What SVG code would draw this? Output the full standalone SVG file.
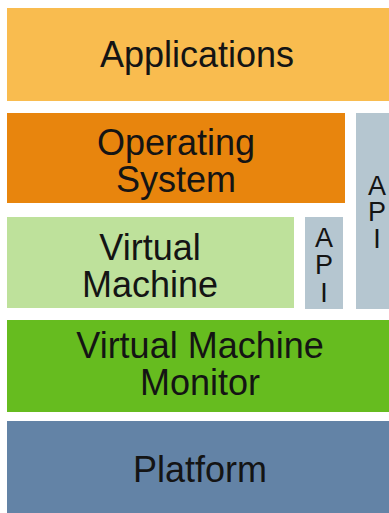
<svg xmlns="http://www.w3.org/2000/svg" width="389" height="513" viewBox="0 0 389 513">
<style>
text{font-family:"Liberation Sans",Arial,sans-serif;fill:#141414;text-anchor:middle}
.big{font-size:36px}
.api{font-size:27px}
</style>
<rect x="0" y="0" width="389" height="513" fill="#ffffff"/>
<g id="applications">
<rect x="7" y="8" width="390" height="93" fill="#F9BC4F"/>
<text class="big" x="197" y="67">Applications</text>
</g>
<g id="operating-system">
<rect x="7" y="113" width="338" height="90" fill="#E8850D"/>
<text class="big" x="176" y="155">Operating<tspan x="176" y="192">System</tspan></text>
</g>
<g id="api-outer">
<rect x="356" y="113" width="42" height="196" fill="#B5C6D0"/>
<text class="api" x="377" y="195">A<tspan x="377" y="221">P</tspan><tspan x="377" y="248">I</tspan></text>
</g>
<g id="virtual-machine">
<rect x="7" y="217" width="287" height="91" fill="#BEE19B"/>
<text class="big" x="150" y="260">Virtual<tspan x="150" y="297">Machine</tspan></text>
</g>
<g id="api-inner">
<rect x="305" y="217" width="38" height="92" fill="#B5C6D0"/>
<text class="api" x="324" y="247">A<tspan x="324" y="274">P</tspan><tspan x="324" y="302">I</tspan></text>
</g>
<g id="vmm">
<rect x="7" y="320" width="390" height="92" fill="#66BC1F"/>
<text class="big" x="200" y="358">Virtual Machine<tspan x="200" y="395">Monitor</tspan></text>
</g>
<g id="platform">
<rect x="7" y="421" width="390" height="100" fill="#6383A6"/>
<text class="big" x="200" y="482">Platform</text>
</g>
<g id="connectors"/>
</svg>
